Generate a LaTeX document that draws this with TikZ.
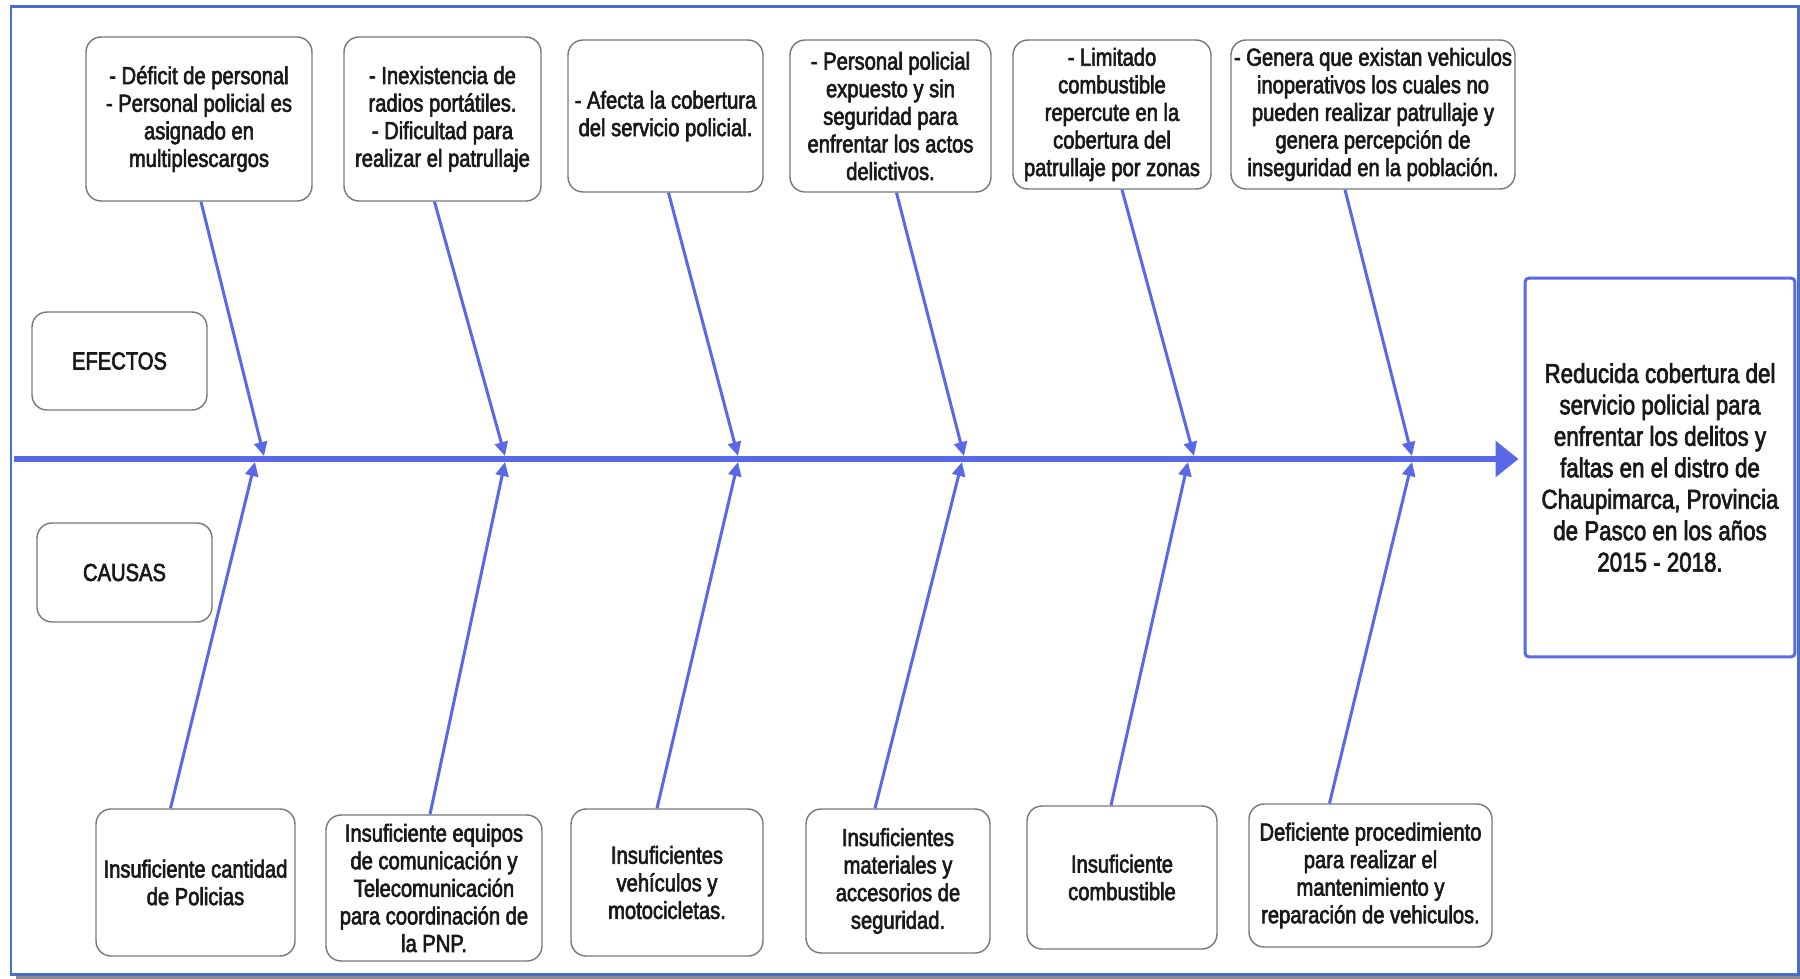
\documentclass[tikz,border=0pt]{standalone}
\usepackage{fontspec}
\setmainfont{Liberation Sans}[FakeStretch=0.82, FakeBold=2.5]
\usetikzlibrary{arrows.meta,calc}

\definecolor{fishblue}{RGB}{88,104,230}
\definecolor{frameblue}{RGB}{70,112,200}
\definecolor{boxgray}{RGB}{120,120,120}

\begin{document}
\begin{tikzpicture}[x=0.02cm, y=-0.02cm,
    txt box/.style={draw=boxgray, rounded corners=0.3cm, line width=0.8pt, align=center,
                    inner sep=1pt, text=black!90, font=\fontsize{14}{15.7}\selectfont},
    bone/.style={draw=fishblue, line width=0.06cm, -{Triangle[length=0.28cm,width=0.26cm]}},
    spine/.style={draw=fishblue, line width=0.12cm, -{Triangle[length=0.46cm,width=0.7cm]}}]

  \useasboundingbox (0,0) rectangle (1800,978);
  % frame
  \draw[black!45, line width=0.08cm] (1801,12) -- (1801,977) -- (16,977);
  \draw[frameblue, line width=0.06cm] (11,6) rectangle (1798,974);

  % effects
  \node[txt box, minimum width=4.52cm, minimum height=3.28cm] (T1) at (199,119)
    {- Déficit de personal\\- Personal policial  es\\asignado en\\multiplescargos};
  \node[txt box, minimum width=3.94cm, minimum height=3.28cm] (T2) at (442.5,119)
    {- Inexistencia de\\radios portátiles.\\- Dificultad para\\realizar el patrullaje};
  \node[txt box, minimum width=3.90cm, minimum height=3.04cm] (T3) at (665.5,116)
    {- Afecta la cobertura\\del servicio policial.};
  \node[txt box, minimum width=4.02cm, minimum height=3.04cm] (T4) at (890.5,116)
    {- Personal policial\\expuesto y sin\\seguridad para\\enfrentar los actos\\delictivos.};
  \node[txt box, minimum width=3.96cm, minimum height=2.98cm] (T5) at (1112,114.5)
    {- Limitado\\combustible\\repercute en la\\cobertura del\\patrullaje por zonas};
  \node[txt box, minimum width=5.68cm, minimum height=2.98cm] (T6) at (1373,114.5)
    {- Genera que existan vehiculos\\inoperativos los cuales no\\pueden realizar patrullaje y\\genera percepción de\\inseguridad en la población.};

  % causes
  \node[txt box, minimum width=3.98cm, minimum height=2.94cm] (B1) at (195.5,882.5)
    {Insuficiente cantidad\\de Policias};
  \node[txt box, minimum width=4.32cm, minimum height=2.92cm] (B2) at (434,888)
    {Insuficiente equipos\\de comunicación y\\Telecomunicación\\para coordinación de\\la PNP.};
  \node[txt box, minimum width=3.84cm, minimum height=2.94cm] (B3) at (667,882.5)
    {Insuficientes\\vehículos y\\motocicletas.};
  \node[txt box, minimum width=3.68cm, minimum height=2.88cm] (B4) at (898,881)
    {Insuficientes\\materiales y\\accesorios de\\seguridad.};
  \node[txt box, minimum width=3.80cm, minimum height=2.86cm] (B5) at (1122,877.5)
    {Insuficiente\\combustible};
  \node[txt box, minimum width=4.86cm, minimum height=2.86cm] (B6) at (1370.5,875.5)
    {Deficiente procedimiento\\para realizar el\\mantenimiento y\\reparación de vehiculos.};

  \node[txt box, minimum width=3.50cm, minimum height=1.96cm] (efe) at (119.5,361) {EFECTOS};
  \node[txt box, minimum width=3.50cm, minimum height=1.98cm] (cau) at (124.5,572.5) {CAUSAS};

  \node[draw=fishblue, line width=0.06cm, rounded corners=0.08cm, align=center,
        minimum width=5.40cm, minimum height=7.58cm, text=black!90,
        font=\fontsize{15.5}{17.9}\selectfont] (R) at (1660,467.5)
    {Reducida cobertura del\\servicio policial para\\enfrentar los delitos y\\faltas en el distro de\\Chaupimarca, Provincia\\de Pasco en los años\\2015 - 2018.};

  % spine
  \coordinate (tail) at (14,459);
  \draw[spine] (tail) -- ([xshift=-0.1cm]tail -| R.west);

  \coordinate (e1) at (264,456);  \coordinate (c1) at (255,462);
  \coordinate (e2) at (505,456);  \coordinate (c2) at (505,462);
  \coordinate (e3) at (738,456);  \coordinate (c3) at (738,462);
  \coordinate (e4) at (964,456);  \coordinate (c4) at (962,462);
  \coordinate (e5) at (1194,456); \coordinate (c5) at (1188,462);
  \coordinate (e6) at (1412,456); \coordinate (c6) at (1412,462);

  \path[every edge/.style={bone}]
    ($(T1.south)+(2,0)$) edge (e1)
    ($(T2.south)+(-8,0)$) edge (e2)
    ($(T3.south)+(3,0)$) edge (e3)
    ($(T4.south)+(6,0)$) edge (e4)
    ($(T5.south)+(10,0)$) edge (e5)
    ($(T6.south)+(-28,0)$) edge (e6)

    ($(B1.north)+(-25,0)$) edge (c1)
    ($(B2.north)+(-4,0)$) edge (c2)
    ($(B3.north)+(-10,0)$) edge (c3)
    ($(B4.north)+(-23,0)$) edge (c4)
    ($(B5.north)+(-11,0)$) edge (c5)
    ($(B6.north)+(-41,0)$) edge (c6);

\end{tikzpicture}
\end{document}
